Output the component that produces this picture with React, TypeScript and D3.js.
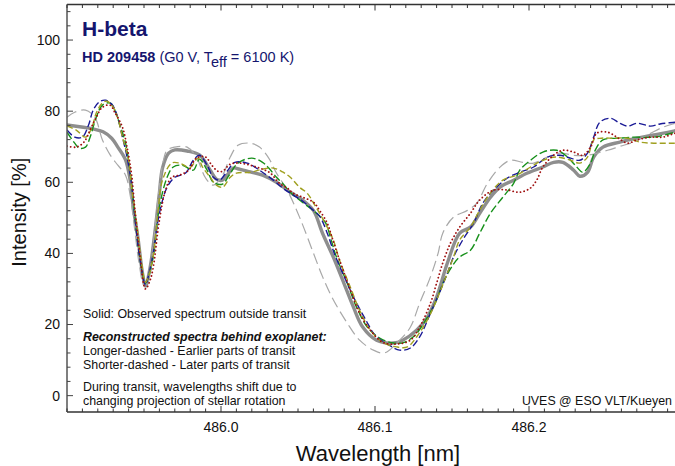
import { useMemo } from "react";
import * as d3 from "d3";

// [wavelength nm, intensity %]
const observed: [number, number][] = [
  [485.9, 76.1], [485.917, 75.0], [485.9234, 74.2], [485.929, 72.4], [485.933, 69.9],
  [485.938, 66.3], [485.941, 60.6], [485.943, 53.0], [485.946, 44.6], [485.949, 34.5],
  [485.951, 30.8], [485.954, 36.1], [485.957, 45.7], [485.96, 57.0], [485.962, 64.0],
  [485.966, 68.2], [485.97, 69.1], [485.978, 68.8], [485.986, 67.7], [485.993, 63.4],
  [485.997, 60.9], [486.001, 60.6], [486.004, 62.0], [486.008, 64.0], [486.012, 63.7],
  [486.019, 62.9], [486.027, 62.0], [486.036, 60.0], [486.045, 57.2], [486.053, 55.0],
  [486.06, 52.1], [486.066, 45.6], [486.073, 38.9], [486.079, 32.5], [486.086, 24.9],
  [486.092, 19.3], [486.101, 15.6], [486.112, 14.8], [486.118, 15.6], [486.127, 18.4],
  [486.134, 22.1], [486.14, 27.7], [486.147, 37.3], [486.155, 45.7], [486.162, 47.4],
  [486.168, 51.3], [486.175, 55.8], [486.181, 58.6], [486.19, 60.6], [486.199, 62.6],
  [486.209, 64.3], [486.216, 65.6], [486.222, 65.6], [486.229, 63.4], [486.233, 61.7],
  [486.238, 62.8], [486.242, 67.1], [486.248, 69.9], [486.259, 71.3], [486.27, 72.4],
  [486.281, 73.3], [486.294, 74.4], [486.3, 75.0],
];

const earliest: [number, number][] = [
  [485.9, 78.3], [485.905, 79.7], [485.912, 80.3], [485.918, 78.3], [485.923, 71.9],
  [485.928, 67.7], [485.933, 64.8], [485.938, 62.0], [485.941, 56.4], [485.944, 46.5],
  [485.947, 36.7], [485.95, 31.1], [485.953, 32.5], [485.956, 42.3], [485.959, 55.0],
  [485.962, 64.8], [485.965, 69.0], [485.97, 69.9], [485.978, 69.9], [485.984, 67.1],
  [485.99, 61.2], [485.995, 59.2], [486.001, 62.0], [486.006, 67.1], [486.011, 70.4],
  [486.019, 71.0], [486.025, 69.9], [486.031, 66.8], [486.036, 62.6], [486.043, 57.8],
  [486.051, 50.2], [486.06, 40.1], [486.066, 33.4], [486.073, 26.9], [486.082, 20.4],
  [486.09, 15.6], [486.099, 12.8], [486.106, 12.0], [486.116, 15.6], [486.123, 19.3],
  [486.129, 26.0], [486.136, 33.4], [486.141, 40.1], [486.144, 45.7], [486.151, 50.2],
  [486.16, 52.1], [486.166, 54.1], [486.173, 59.7], [486.181, 64.2], [486.188, 66.2],
  [486.196, 65.6], [486.203, 65.4], [486.212, 67.1], [486.22, 68.2], [486.229, 67.6],
  [486.238, 67.6], [486.251, 69.0], [486.259, 70.1], [486.268, 71.3], [486.279, 73.8],
  [486.287, 75.5], [486.295, 76.6], [486.3, 77.2],
];

const blueSeries: [number, number][] = [
  [485.9, 74.7], [485.905, 72.7], [485.91, 72.7], [485.914, 76.1], [485.917, 80.3],
  [485.921, 82.6], [485.925, 83.1], [485.929, 82.0], [485.932, 79.5], [485.936, 72.7],
  [485.939, 67.1], [485.942, 59.2], [485.944, 50.7], [485.947, 39.5], [485.951, 31.1],
  [485.953, 33.9], [485.956, 40.1], [485.96, 51.3], [485.965, 58.6], [485.97, 61.4],
  [485.977, 62.6], [485.982, 66.2], [485.986, 67.6], [485.991, 64.8], [485.995, 61.4],
  [485.999, 60.6], [486.004, 63.1], [486.009, 65.6], [486.017, 65.4], [486.025, 63.4],
  [486.034, 60.6], [486.04, 58.4], [486.047, 56.4], [486.053, 54.7], [486.06, 52.1],
  [486.064, 50.5], [486.069, 45.7], [486.074, 39.5], [486.081, 32.5], [486.087, 26.9],
  [486.094, 21.3], [486.1, 17.0], [486.108, 14.5], [486.116, 12.8], [486.123, 13.4],
  [486.129, 16.5], [486.136, 23.2], [486.142, 29.1], [486.147, 34.5], [486.151, 39.0],
  [486.157, 43.8], [486.164, 48.5], [486.17, 54.1], [486.177, 57.8], [486.186, 61.2],
  [486.194, 62.8], [486.203, 64.3], [486.212, 67.1], [486.22, 67.6], [486.227, 66.8],
  [486.233, 66.2], [486.238, 68.2], [486.242, 72.7], [486.246, 76.9], [486.253, 78.0],
  [486.259, 76.6], [486.264, 75.8], [486.27, 76.6], [486.279, 75.8], [486.285, 76.4],
  [486.295, 76.9], [486.3, 77.2],
];

const greenSeries: [number, number][] = [
  [485.9, 74.1], [485.905, 71.0], [485.908, 69.6], [485.912, 69.9], [485.915, 72.7],
  [485.919, 78.3], [485.923, 81.7], [485.928, 82.3], [485.931, 80.3], [485.934, 76.6],
  [485.938, 71.0], [485.941, 62.9], [485.944, 50.7], [485.947, 39.5], [485.951, 31.6],
  [485.953, 33.6], [485.956, 39.0], [485.96, 53.0], [485.965, 61.4], [485.969, 64.3],
  [485.975, 64.8], [485.982, 63.4], [485.986, 66.5], [485.991, 63.4], [485.995, 60.0],
  [486.001, 59.5], [486.005, 61.8], [486.011, 65.4], [486.02, 66.8], [486.027, 65.6],
  [486.031, 64.0], [486.036, 61.4], [486.04, 59.7], [486.045, 57.2], [486.051, 55.0],
  [486.058, 52.7], [486.062, 51.3], [486.068, 48.5], [486.071, 44.6], [486.075, 38.9],
  [486.082, 31.6], [486.088, 24.9], [486.095, 19.3], [486.103, 16.2], [486.112, 14.8],
  [486.119, 15.0], [486.126, 17.0], [486.132, 20.6], [486.139, 26.0], [486.145, 32.5],
  [486.151, 37.0], [486.155, 39.0], [486.162, 40.9], [486.168, 45.7], [486.175, 51.3],
  [486.183, 55.8], [486.19, 59.7], [486.194, 63.4], [486.201, 66.2], [486.209, 68.5],
  [486.218, 69.0], [486.225, 67.1], [486.231, 64.3], [486.235, 62.8], [486.24, 65.4],
  [486.243, 69.0], [486.248, 71.9], [486.259, 72.4], [486.268, 72.7], [486.281, 72.7],
  [486.295, 74.1], [486.3, 74.7],
];

const oliveSeries: [number, number][] = [
  [485.9, 75.8], [485.906, 74.7], [485.912, 72.7], [485.916, 75.2], [485.919, 79.5],
  [485.923, 82.3], [485.926, 82.8], [485.93, 81.1], [485.933, 78.0], [485.936, 72.7],
  [485.94, 66.2], [485.942, 58.4], [485.945, 49.3], [485.948, 38.7], [485.951, 31.9],
  [485.953, 33.6], [485.956, 39.5], [485.959, 51.3], [485.962, 60.6], [485.968, 65.4],
  [485.973, 65.4], [485.98, 64.2], [485.985, 66.8], [485.988, 64.3], [485.993, 61.4],
  [485.997, 59.2], [486.001, 58.6], [486.006, 61.4], [486.01, 62.6], [486.019, 62.8],
  [486.027, 63.7], [486.034, 64.0], [486.04, 62.9], [486.045, 61.4], [486.051, 58.6],
  [486.056, 56.9], [486.061, 53.5], [486.064, 51.3], [486.069, 47.4], [486.073, 43.7],
  [486.077, 38.1], [486.084, 30.5], [486.09, 24.0], [486.097, 18.4], [486.105, 15.0],
  [486.114, 13.7], [486.121, 13.7], [486.127, 16.5], [486.134, 21.3], [486.14, 26.9],
  [486.147, 34.5], [486.151, 39.0], [486.155, 43.8], [486.162, 47.4], [486.168, 52.2],
  [486.175, 57.0], [486.183, 60.6], [486.192, 62.0], [486.201, 64.3], [486.209, 66.2],
  [486.218, 67.1], [486.227, 66.2], [486.233, 65.4], [486.238, 67.1], [486.242, 71.9],
  [486.247, 72.4], [486.255, 72.4], [486.264, 72.4], [486.272, 71.3], [486.281, 71.0],
  [486.295, 71.0], [486.3, 71.0],
];

const redSeries: [number, number][] = [
  [485.9, 70.2], [485.906, 69.9], [485.911, 71.3], [485.915, 74.7], [485.919, 78.3],
  [485.923, 81.1], [485.928, 81.7], [485.931, 79.7], [485.936, 75.5], [485.939, 69.9],
  [485.942, 62.0], [485.944, 52.7], [485.947, 40.9], [485.951, 30.0], [485.954, 32.5],
  [485.956, 36.1], [485.96, 49.3], [485.964, 57.8], [485.968, 61.4], [485.973, 62.0],
  [485.979, 63.4], [485.984, 66.8], [485.99, 67.1], [485.994, 64.8], [485.998, 63.1],
  [486.001, 63.1], [486.006, 65.1], [486.012, 65.4], [486.019, 64.8], [486.025, 64.0],
  [486.032, 62.6], [486.038, 59.7], [486.043, 58.4], [486.047, 56.9], [486.053, 55.8],
  [486.06, 54.4], [486.064, 52.1], [486.069, 48.5], [486.072, 44.6], [486.077, 38.1],
  [486.084, 29.7], [486.09, 23.2], [486.097, 18.4], [486.105, 15.0], [486.114, 14.5],
  [486.123, 15.6], [486.129, 19.3], [486.136, 26.0], [486.14, 31.6], [486.144, 37.3],
  [486.149, 42.9], [486.155, 47.4], [486.162, 51.3], [486.168, 55.0], [486.177, 57.8],
  [486.186, 57.8], [486.194, 57.2], [486.201, 58.4], [486.205, 60.6], [486.209, 64.3],
  [486.216, 67.6], [486.222, 69.0], [486.229, 68.5], [486.235, 67.6], [486.24, 69.9],
  [486.244, 73.8], [486.251, 74.1], [486.257, 72.7], [486.264, 71.0], [486.27, 71.9],
  [486.279, 72.7], [486.287, 72.7], [486.295, 73.8], [486.3, 74.1],
];

const xMajorTicks = [486.0, 486.1, 486.2];
const yMajorTicks = [0, 20, 40, 60, 80, 100];

const legendLines = [
  "Solid: Observed spectrum outside transit",
  "Reconstructed spectra behind exoplanet:",
  "Longer-dashed - Earlier parts of transit",
  "Shorter-dashed - Later parts of transit",
  "During transit, wavelengths shift due to",
  "changing projection of stellar rotation",
];

const W = 675;
const H = 466;
const left = 67;
const right = 683;
const top = 4.5;
const bottom = 412;
const font = "'Liberation Sans', Arial, Helvetica, sans-serif";
const navy = "#15156e";

export default function App() {
  const x = useMemo(() => d3.scaleLinear().domain([485.9, 486.3]).range([left, right]), []);
  const y = useMemo(() => d3.scaleLinear().domain([-4.6, 110]).range([bottom, top]), []);

  const line = d3
    .line<[number, number]>()
    .x((d) => x(d[0]))
    .y((d) => y(d[1]))
    .curve(d3.curveCatmullRom.alpha(0.5));

  const xMinor = d3.range(0, 41).map((i) => 485.9 + i * 0.01);
  const yMinor = d3.range(0, 28).map((i) => i * 4);

  const series = [
    { data: observed, stroke: "#8e8e8e", width: 3.4, dash: undefined, cap: "round" },
    { data: earliest, stroke: "#a8a8a8", width: 1.2, dash: "11,5", cap: "butt" },
    { data: greenSeries, stroke: "#16901a", width: 1.4, dash: "8,3", cap: "butt" },
    { data: blueSeries, stroke: "#1a1a96", width: 1.4, dash: "7,3", cap: "butt" },
    { data: oliveSeries, stroke: "#a0a020", width: 1.4, dash: "6,3", cap: "butt" },
    { data: redSeries, stroke: "#a01010", width: 1.8, dash: "0.1,3.6", cap: "round" },
  ];

  return (
    <svg
      width={W}
      height={H}
      style={{ position: "fixed", left: 0, top: 0, background: "#fff" }}
      fontFamily={font}
    >
      <defs>
        <clipPath id="plot-clip">
          <rect x={left} y={top} width={right - left} height={bottom - top} />
        </clipPath>
      </defs>
      <rect width={W} height={H} fill="#fff" />

      <g clipPath="url(#plot-clip)">
        {series.map((s, i) => (
          <path
            key={i}
            d={line(s.data) ?? ""}
            fill="none"
            stroke={s.stroke}
            strokeWidth={s.width}
            strokeDasharray={s.dash}
            strokeLinecap={s.cap as "round" | "butt"}
            strokeLinejoin="round"
          />
        ))}
      </g>

      {/* frame */}
      <line x1={left} x2={right} y1={top} y2={top} stroke="#333" strokeWidth={1.5} />
      <line x1={left} x2={right} y1={bottom} y2={bottom} stroke="#333" strokeWidth={1.5} />
      <line x1={left} x2={left} y1={top} y2={bottom} stroke="#555" strokeWidth={1.5} />

      {/* x ticks, bottom and top */}
      {xMinor.map((v, i) => {
        const major = xMajorTicks.some((m) => Math.abs(m - v) < 1e-6);
        const len = major ? 6 : 3.5;
        return (
          <g key={i} stroke="#333" strokeWidth={1}>
            <line x1={x(v)} x2={x(v)} y1={bottom} y2={bottom - len} />
            <line x1={x(v)} x2={x(v)} y1={top} y2={top + len} />
          </g>
        );
      })}
      {xMajorTicks.map((v) => (
        <text key={v} x={x(v)} y={432} textAnchor="middle" fontSize={14} fill="#111">
          {d3.format(".1f")(v)}
        </text>
      ))}

      {/* y ticks */}
      {yMinor.map((v) => {
        const major = yMajorTicks.includes(v);
        return (
          <line
            key={v}
            x1={left}
            x2={left + (major ? 6 : 3.5)}
            y1={y(v)}
            y2={y(v)}
            stroke="#444"
            strokeWidth={1}
          />
        );
      })}
      {yMajorTicks.map((v) => (
        <text key={v} x={60} y={y(v)} dy="0.35em" textAnchor="end" fontSize={14} fill="#111">
          {v}
        </text>
      ))}

      <text
        transform={`translate(26,${(top + bottom) / 2 + 4}) rotate(-90)`}
        textAnchor="middle"
        fontSize={20}
        fill="#111"
      >
        Intensity [%]
      </text>
      <text x={378} y={461} textAnchor="middle" fontSize={22} fill="#111">
        Wavelength [nm]
      </text>

      <text x={82} y={36} fontSize={21} fontWeight="bold" fill={navy}>
        H-beta
      </text>
      <text x={82} y={62} fontSize={14.5} fill={navy}>
        <tspan fontWeight="bold">HD 209458</tspan>
        <tspan> (G0 V, T</tspan>
        <tspan dy={4.5}>eff</tspan>
        <tspan dy={-4.5}> = 6100 K)</tspan>
      </text>

      <g fontSize={12.4} fill="#111">
        <text x={83} y={318}>{legendLines[0]}</text>
        <text x={83} y={341} fontWeight="bold" fontStyle="italic">
          {legendLines[1]}
        </text>
        <text x={83} y={355}>{legendLines[2]}</text>
        <text x={83} y={369}>{legendLines[3]}</text>
        <text x={83} y={391}>{legendLines[4]}</text>
        <text x={83} y={405}>{legendLines[5]}</text>
        <text x={672} y={405} textAnchor="end">
          UVES @ ESO VLT/Kueyen
        </text>
      </g>
    </svg>
  );
}
